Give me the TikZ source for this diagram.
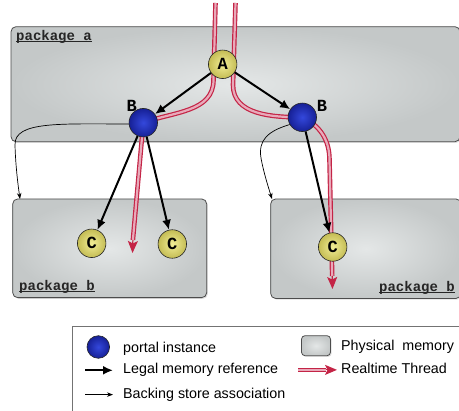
\documentclass[tikz,border=0pt]{standalone}
\usepackage{fontspec}
\setsansfont{Liberation Sans}
\setmonofont{Liberation Mono}
\usetikzlibrary{arrows.meta,shadows,positioning}

\definecolor{rtred}{RGB}{196,36,70}
\definecolor{rtpale}{RGB}{232,170,186}
\definecolor{memlight}{RGB}{228,231,231}
\definecolor{memdark}{RGB}{196,200,200}
\definecolor{portallight}{RGB}{52,72,220}
\definecolor{portaldark}{RGB}{22,32,150}
\definecolor{objlight}{RGB}{242,238,150}
\definecolor{objdark}{RGB}{196,188,84}

\newcommand{\pkgline}[1]{\setbox0=\hbox{#1}\rlap{\rule[-1.6pt]{\wd0}{0.9pt}}\box0}

\begin{document}
\begin{tikzpicture}[x=1pt,y=1pt,
    pkg/.style={draw=black!70,line width=0.8pt,rounded corners=5pt,inner color=memlight,outer color=memdark,
      drop shadow={shadow xshift=1.2pt,shadow yshift=-1.2pt,opacity=0.25}},
    pkgname/.style={font=\fontsize{14}{14}\selectfont\ttfamily\bfseries,text=black!85,inner sep=0pt},
    ball/.style={circle,draw=black!85,line width=0.6pt,minimum size=28.5pt,inner sep=0pt,
      font=\fontsize{17}{17}\selectfont\ttfamily\bfseries},
    portal/.style={ball,inner color=portallight,outer color=portaldark},
    obj/.style={ball,inner color=objlight,outer color=objdark},
    bname/.style={font=\fontsize{17}{17}\selectfont\ttfamily\bfseries,inner sep=0pt},
    legal/.style={-{Latex[length=10pt,width=9pt]},line width=2pt},
    backing/.style={-{Stealth[length=6pt,width=4.5pt]},line width=0.7pt},
    rt/.style={draw=rtred,line width=1.2pt,double=rtpale,double distance=2.2pt},
    rttip/.style={draw=rtred,line width=1.2pt,-{Stealth[length=12pt,width=10pt,inset=2.5pt]}},
    legtxt/.style={font=\fontsize{14.3}{16}\selectfont\sffamily,inner sep=0pt,anchor=base west}]
  \useasboundingbox (0,0) rectangle (459,-411);

  % memory areas
  \node[pkg,minimum width=449pt,minimum height=115pt] (pa) at (235.5,-84.2) {};
  \node[pkg,minimum width=194pt,minimum height=98.7pt] (pbl) at (109.7,-248.3) {};
  \node[pkg,minimum width=190.3pt,minimum height=99.5pt] (pbr) at (365.8,-248.7) {};
  \node[pkgname,anchor=base west] (pan) at (16,-40.7) {\pkgline{package a}};
  \node[pkgname,anchor=base west] (pbln) at (19,-290.5) {\pkgline{package b}};
  \node[pkgname,anchor=base east] (pbrn) at (455,-291.5) {\pkgline{package b}};

  % end points
  \coordinate (rtl) at (215.5,-3);
  \coordinate (rtr) at (235.5,-3);
  \coordinate (rtlbase) at (132.9,-240);
  \coordinate (rtlend) at (132.5,-253);
  \coordinate (rtrbase) at (332.2,-276);
  \coordinate (rtrend) at (332.5,-289);
  \coordinate (bsl) at (20,-199);
  \coordinate (bsr) at (272,-199);

  % realtime threads
  \draw[rt] (rtl) -- (213.5,-80) to[out=-90,in=20] (143.3,-122.7) -- (rtlbase);
  \draw[rttip] (rtlbase) -- (rtlend);
  \draw[rt] (rtr) -- (233,-85) to[out=-90,in=180] (302.3,-117.3) to[out=-25,in=90] (329.5,-160) -- (rtrbase);
  \draw[rttip] (rtrbase) -- (rtrend);

  % instances
  \node[obj] (A) at (222.7,-64.3) {A};
  \node[portal] (Bl) at (143.3,-122.7) {};
  \node[portal] (Br) at (302.3,-117.3) {};
  \node[obj] (C1) at (91.7,-243.3) {C};
  \node[obj] (C2) at (172.3,-244) {C};
  \node[obj] (C3) at (332.7,-247) {C};
  \node[bname] (Bll) at (131.7,-106) {B};
  \node[bname] (Brl) at (322,-106) {B};

  % references
  \draw[legal] (A) -- (Bl);
  \draw[legal] (A) -- (Br);
  \draw[legal] (Bl) -- (C1);
  \draw[legal] (Bl) -- (C2);
  \draw[legal] (Br) -- (C3);
  \draw[backing] (Bl.185) .. controls (60,-124) and (14,-121) .. (15,-145)
    .. controls (15.5,-165) and (18,-185) .. (bsl);
  \draw[backing] (Br.210) .. controls (268,-131) and (258,-140) .. (261,-158)
    .. controls (263.5,-172) and (268,-186) .. (bsr);

  % legend
  \draw[black!55,line width=0.8pt] (72.5,-326.5) rectangle (475,-420);
  \node[portal,minimum size=22.6pt] (lgB) at (98.3,-347) {};
  \node[legtxt] (lgBt) at (123,-352.3) {portal instance};
  \node[legtxt] (lgL) at (123,-374) {Legal memory reference};
  \node[legtxt] (lgS) at (123,-398.3) {Backing store association};
  \node[pkg,minimum width=29pt,minimum height=20pt,rounded corners=3.5pt] (lgP) at (316,-345.7) {};
  \node[legtxt] (lgPt) at (341,-350.3) {Physical\ \ memory};
  \node[legtxt] (lgR) at (341,-374) {Realtime Thread};
  \draw[legal] ([xshift=-38pt]lgL.west) -- ([xshift=-10pt]lgL.west);
  \draw[backing] ([xshift=-38pt]lgS.west) -- ([xshift=-10pt]lgS.west);
  \draw[rt] ([xshift=-43pt,yshift=-1pt]lgR.west) -- ([xshift=-15pt,yshift=-1pt]lgR.west);
  \draw[rttip] ([xshift=-15pt,yshift=-1pt]lgR.west) -- ([xshift=-4pt,yshift=-1pt]lgR.west);
\end{tikzpicture}
\end{document}
